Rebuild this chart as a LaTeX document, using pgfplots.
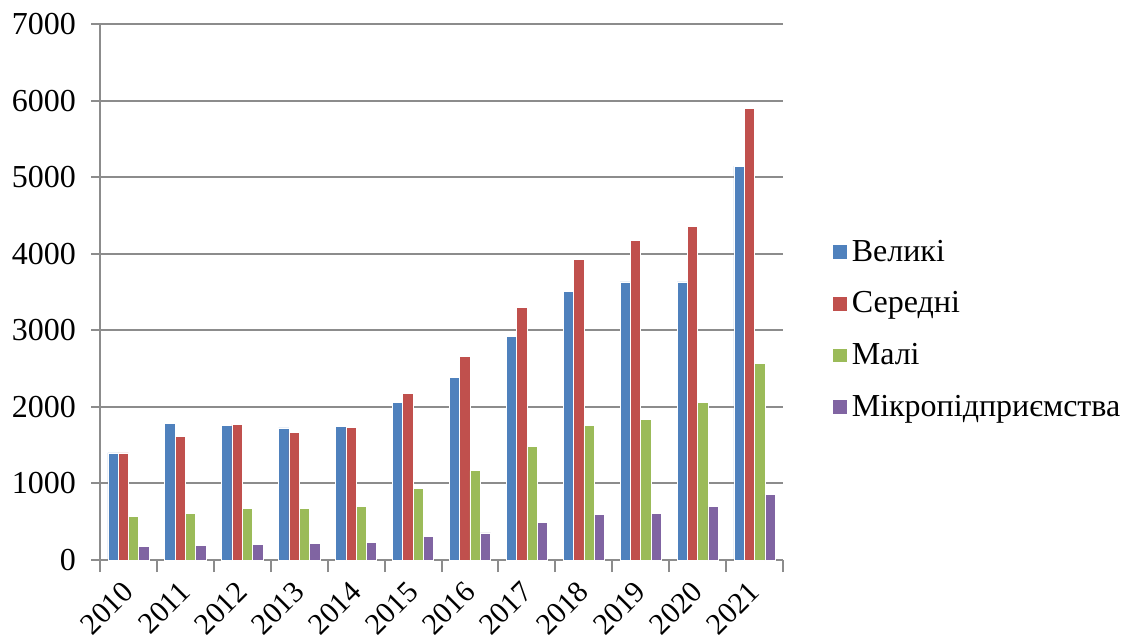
\documentclass[border=0pt]{standalone}
\usepackage{pgfplots}
\pgfplotsset{compat=1.18}
\usepackage{fontspec}
\setmainfont{Liberation Serif}
\definecolor{cBlue}{HTML}{4F81BD}
\definecolor{cRed}{HTML}{C0504D}
\definecolor{cGreen}{HTML}{9BBB59}
\definecolor{cPurple}{HTML}{8064A2}
\definecolor{gridc}{HTML}{8C8C8C}
\begin{document}
\begin{tikzpicture}
\useasboundingbox (-50pt,-41.5pt) rectangle (511pt,280pt);
\begin{axis}[
  at={(0,0)}, anchor=south west,
  scale only axis,
  width=341.5pt, height=268pt,
  ybar, bar width=5.15pt,
  xmin=-0.5, xmax=11.5,
  ymin=0, ymax=7000,
  ytick={0,1000,...,7000},
  ymajorgrids,
  grid style={gridc, line width=1pt},
  axis line style={gridc, line width=1pt},
  axis x line*=bottom, axis y line*=left,
  xtick={0,...,11},
  xticklabels={2010,2011,2012,2013,2014,2015,2016,2017,2018,2019,2020,2021},
  minor xtick={-0.5,0.5,...,11.5},
  major x tick style={draw=none},
  minor x tick style={gridc, line width=1pt},
  y tick style={gridc, line width=1pt},
  tick align=outside,
  major tick length=4.5pt, minor tick length=6pt,
  xticklabel style={rotate=45, anchor=north east, font=\fontsize{15}{18}\selectfont, inner sep=1pt, yshift=0pt, xshift=-5.2pt},
  yticklabel style={font=\fontsize{16}{19}\selectfont, /pgf/number format/assume math mode=true, /pgf/number format/set thousands separator={}, xshift=-4pt},
  legend style={at={(1.063,0.43)}, anchor=west, draw=none, fill=none,
    font=\fontsize{16}{19}\selectfont, row sep=9.7pt,
    /tikz/every even column/.append style={column sep=1pt}},
  legend cell align=left,
  legend image code/.code={\fill[#1] (0pt,-3.7pt) rectangle (7.4pt,3.7pt);},
]
\addplot[fill=cBlue, draw=white, line width=0.3pt, bar shift=-7.725pt] coordinates {
 (0,1399) (1,1781) (2,1763) (3,1724) (4,1750) (5,2061) (6,2384) (7,2922) (8,3513) (9,3631) (10,3631) (11,5144)};
\addplot[fill=cRed, draw=white, line width=0.3pt, bar shift=-2.575pt] coordinates {
 (0,1400) (1,1614) (2,1772) (3,1662) (4,1732) (5,2180) (6,2660) (7,3294) (8,3924) (9,4169) (10,4357) (11,5895)};
\addplot[fill=cGreen, draw=white, line width=0.3pt, bar shift=2.575pt] coordinates {
 (0,570) (1,610) (2,671) (3,671) (4,702) (5,939) (6,1168) (7,1483) (8,1763) (9,1837) (10,2056) (11,2572)};
\addplot[fill=cPurple, draw=white, line width=0.3pt, bar shift=7.725pt] coordinates {
 (0,180) (1,189) (2,206) (3,215) (4,232) (5,307) (6,354) (7,490) (8,599) (9,608) (10,700) (11,862)};
\legend{Великі, Середні, Малі, Мікропідприємства}
\end{axis}
\end{tikzpicture}
\end{document}
